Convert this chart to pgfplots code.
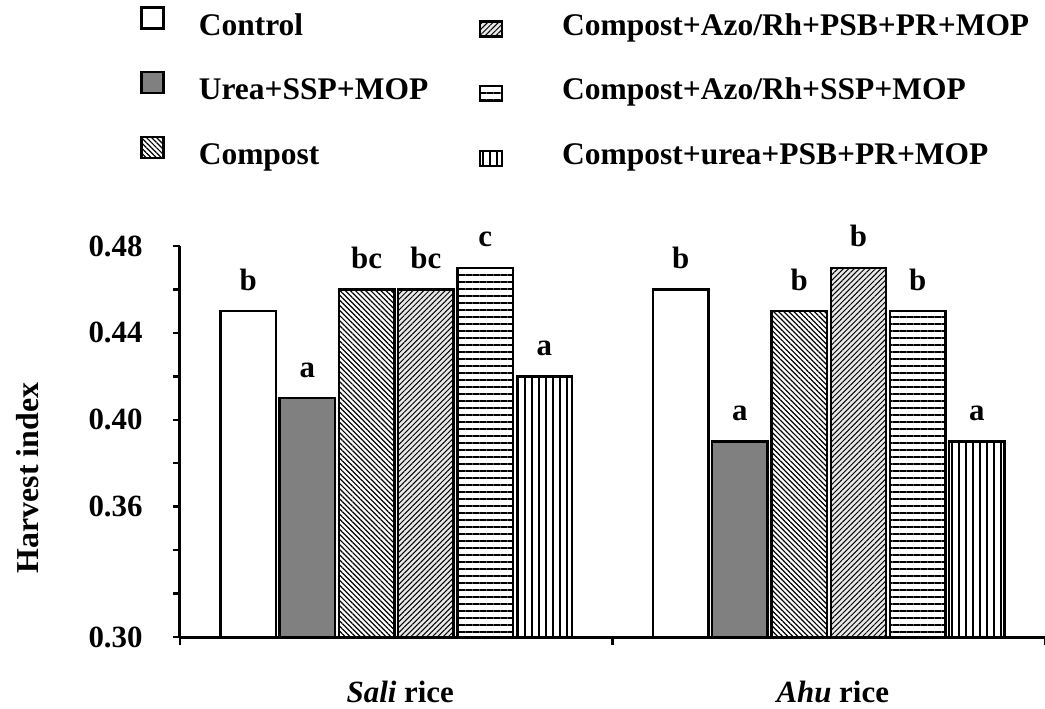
\documentclass[border=0pt]{standalone}
\usepackage{fontspec}
\setmainfont{Liberation Serif}
\usepackage{pgfplots}
\pgfplotsset{compat=1.18}
\usetikzlibrary{patterns.meta}
\definecolor{midgray}{RGB}{128,128,128}

\begin{document}
\begin{tikzpicture}
\pgfplotsset{
  legA/.style={legend image code/.code={\draw[##1,line width=1.2bp] (0bp,-0.5bp) rectangle (11bp,10bp);}},
  legB/.style={legend image code/.code={\draw[##1,line width=1.2bp] (0bp,-4.5bp) rectangle (11bp,3bp);}},
}
\begin{axis}[
  scale only axis, width=432.5bp, height=195.5bp,
  xmin=0, xmax=2, ymin=0.30, ymax=0.48,
  axis x line*=bottom, axis y line*=left,
  axis line style={line width=1.5bp},
  clip=false,
  font=\fontsize{15.5}{18}\selectfont\bfseries,
  xtick={0.5,1.5},
  xticklabels={\textit{Sali} rice,\textit{Ahu} rice},
  major x tick style={draw=none},
  minor xtick={0,1,2},
  minor tick length=4bp,
  ytick={0.30,0.32,0.34,0.36,0.38,0.40,0.42,0.44,0.46,0.48},
  yticklabels={0.30,,,0.36,,0.40,,0.44,,0.48},
  tick align=outside, major tick length=3.5bp,
  tick style={line width=1.2bp, black},
  xticklabel style={anchor=base, inner sep=0pt, yshift=-29bp, xshift=2bp},
  yticklabel style={anchor=east, inner sep=0pt, xshift=-15bp},
  ylabel={Harvest index},
  every axis y label/.style={at={([xshift=-76bp]rel axis cs:0,0.407)}, rotate=90, anchor=center, font=\fontsize{16}{18}\selectfont\bfseries},
  ybar, bar width=0.128,
  every axis plot/.append style={draw=black, line width=1.2bp},
  nodes near coords, point meta=explicit symbolic,
  every node near coord/.append style={anchor=base, yshift=10.5bp, inner sep=0pt, font=\fontsize{15.5}{18}\selectfont\bfseries},
  legend columns=3, transpose legend,
  legend cell align=left,
  legend style={draw=none, fill=none, at={(rel axis cs:0,1)}, anchor=north west,
    xshift=-20bp, yshift=120bp, inner sep=0pt, row sep=14.5bp, column sep=0pt,
    font=\fontsize{15.8}{18}\selectfont\bfseries,
    nodes={inner sep=0pt, text height=11bp, text depth=3.5bp},
    /tikz/every odd column/.append style={column sep=17bp}},
]
\addplot[fill=white, bar shift=-0.3425, legA] coordinates {(0.5,0.45) [b] (1.5,0.46) [b]};
\addplot[fill=midgray, bar shift=-0.2055, legA] coordinates {(0.5,0.41) [a] (1.5,0.39) [a]};
\addplot[pattern={Lines[angle=-45,distance=1.8bp,line width=0.6bp]}, bar shift=-0.0685, legA] coordinates {(0.5,0.46) [bc] (1.5,0.45) [b]};
\addplot[fill=gray!18, postaction={pattern={Lines[angle=45,distance=1.9bp,line width=0.5bp]}}, bar shift=0.0685, legB] coordinates {(0.5,0.46) [bc] (1.5,0.47) [b]};
\addplot[pattern={Lines[angle=0,distance=3.5bp,line width=0.75bp]}, bar shift=0.2055, legB] coordinates {(0.5,0.47) [c] (1.5,0.45) [b]};
\addplot[pattern={Lines[angle=90,distance=3.5bp,line width=0.7bp]}, bar shift=0.3425, legB] coordinates {(0.5,0.42) [a] (1.5,0.39) [a]};
\legend{\makebox[140bp][l]{Control},\makebox[140bp][l]{Urea+SSP+MOP},\makebox[140bp][l]{Compost},
  \hspace{12.5bp}Compost+Azo/Rh+PSB+PR+MOP,\hspace{12.5bp}Compost+Azo/Rh+SSP+MOP,\hspace{12.5bp}Compost+urea+PSB+PR+MOP}
\coordinate (O) at (rel axis cs:0,0);
\end{axis}
\pgfresetboundingbox
\path ([xshift=-90bp,yshift=-36bp]O) rectangle ([xshift=432.5bp,yshift=318.5bp]O);
\end{tikzpicture}
\end{document}
